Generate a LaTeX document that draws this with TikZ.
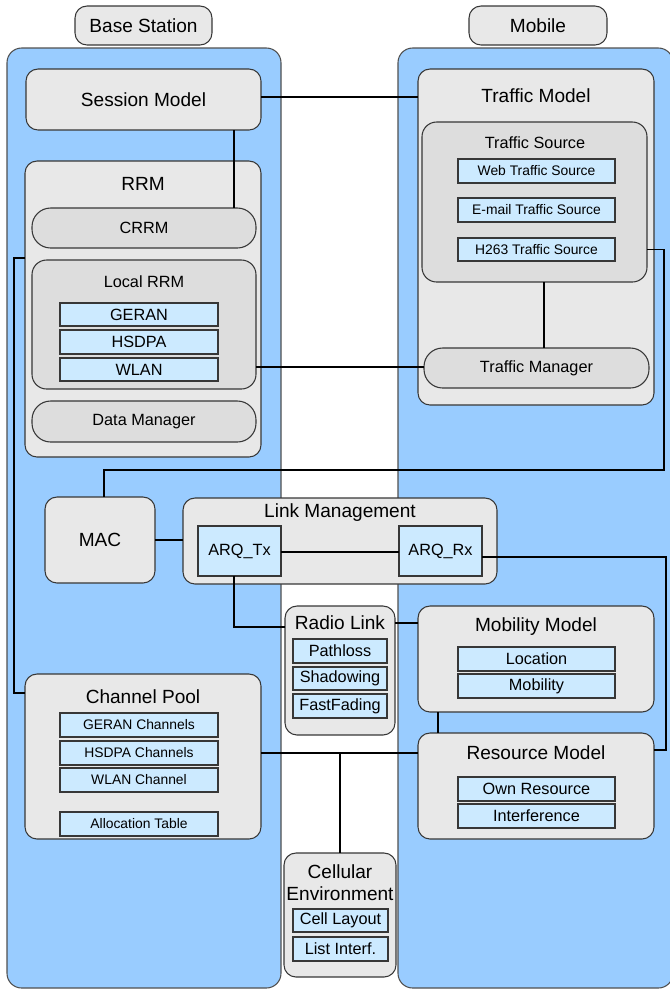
\documentclass[tikz,border=0pt]{standalone}
\usepackage{fontspec}
\setmainfont{Liberation Sans}
\definecolor{contblue}{RGB}{153,204,255}
\definecolor{boxgray}{RGB}{232,232,232}
\definecolor{innergray}{RGB}{221,221,221}
\definecolor{cellblue}{RGB}{204,234,255}
\definecolor{edge}{RGB}{55,55,55}
\definecolor{contedge}{RGB}{80,80,80}
\begin{document}
\begin{tikzpicture}[x=0.75pt,y=-0.75pt,
  % a box given by its corners (x1,y1) and (x2,y2) in pixel units
  area/.style n args={4}{inner sep=0pt, outer sep=0pt,
    minimum width={(#3-#1)*0.75pt}, minimum height={(#4-#2)*0.75pt},
    at={({(#1+#3)/2},{(#2+#4)/2})}},
  container/.style={draw=contedge, fill=contblue, rounded corners=11pt, line width=0.8pt},
  panel/.style={draw=edge, fill=boxgray, rounded corners=9pt, line width=0.8pt},
  subpanel/.style={draw=edge, fill=innergray, rounded corners=11pt, line width=0.8pt},
  cellbox/.style={draw=edge, fill=cellblue, line width=0.8pt},
  big/.style={font=\fontsize{14.3}{17}\selectfont},
  mid/.style={font=\fontsize{12.2}{14}\selectfont},
  small/.style={font=\fontsize{10.4}{12}\selectfont},
  link/.style={draw=black, line width=1.1pt},
]
\useasboundingbox (0,0) rectangle (669,990);

% header tags
\node[panel, big, area={75}{6}{212}{45}] (bstag) {Base Station};
\node[panel, big, area={469}{6}{607}{45}] (mstag) {Mobile};

% the two large containers
\node[container, area={7}{48}{281}{988}] (bscont) {};
\node[container, area={398}{48}{673}{988}] (mscont) {};

% base station side
\node[panel, big, area={26}{69}{261}{130}] (sess) {Session Model};

\node[panel, area={25}{161}{261}{457}] (rrm) {};
\node[big] (rrmt) at (143,184) {RRM};
\node[subpanel, mid, rounded corners=14pt, area={32}{208}{256}{248}] (crrm) {CRRM};
\node[subpanel, area={32}{260}{256}{389}] (lrrm) {};
\node[mid] (lrrmt) at (144,282) {Local RRM};
\node[cellbox, mid, area={60}{303}{218}{326}] (geran) {GERAN};
\node[cellbox, mid, area={60}{330}{218}{354}] (hsdpa) {HSDPA};
\node[cellbox, mid, area={60}{358}{218}{381}] (wlan) {WLAN};
\node[subpanel, mid, rounded corners=14pt, area={32}{401}{256}{442}] (dmgr) {Data Manager};

\node[panel, big, area={45}{497}{155}{583}] (mac) {MAC};

\node[panel, area={25}{674}{261}{839}] (chp) {};
\node[big] (chpt) at (143,697) {Channel Pool};
\node[cellbox, small, area={60}{713}{218}{737}] (gch) {GERAN Channels};
\node[cellbox, small, area={60}{741}{218}{765}] (hch) {HSDPA Channels};
\node[cellbox, small, area={60}{768}{218}{792}] (wch) {WLAN Channel};
\node[cellbox, small, area={60}{812}{218}{836}] (atab) {Allocation Table};

% mobile side
\node[panel, area={418}{69}{654}{405}] (tm) {};
\node[big] (tmt) at (536,96) {Traffic Model};
\node[subpanel, area={422}{122}{647}{282}] (tsrc) {};
\node[mid] (tsrct) at (535,143) {Traffic Source};
\node[cellbox, small, area={458}{159}{615}{183}] (web) {Web Traffic Source};
\node[cellbox, small, area={458}{198}{615}{222}] (email) {E-mail Traffic Source};
\node[cellbox, small, area={458}{238}{615}{261}] (h263) {H263 Traffic Source};
\node[subpanel, mid, rounded corners=14pt, area={424}{348}{649}{388}] (tmgr) {Traffic Manager};

\node[panel, area={418}{606}{654}{712}] (mobm) {};
\node[big] (mobmt) at (536,627) {Mobility Model};
\node[cellbox, mid, area={458}{647}{615}{671}] (loc) {Location};
\node[cellbox, mid, area={458}{674}{615}{698}] (mobl) {Mobility};

\node[panel, area={418}{733}{654}{839}] (res) {};
\node[big] (rest) at (536,753) {Resource Model};
\node[cellbox, mid, area={458}{777}{615}{801}] (own) {Own Resource};
\node[cellbox, mid, area={458}{804}{615}{828}] (intf) {Interference};

% shared blocks in the middle
\node[panel, area={183}{498}{497}{584}] (lm) {};
\node[big] (lmt) at (340,513) {Link Management};
\node[cellbox, mid, area={198}{526}{281}{576}] (arqtx) {ARQ\_Tx};
\node[cellbox, mid, area={399}{526}{482}{576}] (arqrx) {ARQ\_Rx};

\node[panel, area={285}{606}{395}{735}] (rl) {};
\node[big] (rlt) at (340,623) {Radio Link};
\node[cellbox, mid, area={293}{639}{387}{663}] (path) {Pathloss};
\node[cellbox, mid, area={293}{667}{387}{690}] (shad) {Shadowing};
\node[cellbox, mid, area={293}{694}{387}{718}] (fast) {FastFading};

\node[panel, area={284}{853}{396}{977}] (cell) {};
\node[big] (cellt1) at (340,872) {Cellular};
\node[big] (cellt2) at (340,894) {Environment};
\node[cellbox, mid, area={293}{909}{388}{932}] (clay) {Cell Layout};
\node[cellbox, mid, area={293}{937}{388}{961}] (lint) {List Interf.};

% connectors
\draw[link] (sess.east |- 0,97) -- (tm.west |- 0,97);
\draw[link] (sess.south -| 234,0) -- (crrm.north -| 234,0);
\draw[link] (rrm.west |- 0,258) -| (14,693) -- (chp.west |- 0,693);
\draw[link] (tsrc.east |- h263.east) -| (664,470) -| (mac.north -| 104,0);
\draw[link] (tsrc.south -| 544,0) -- (tmgr.north -| 544,0);
\draw[link] (lrrm.east |- 0,367) -- (tmgr.west |- 0,367);
\draw[link] (mac.east |- 0,540) -- (lm.west |- 0,540);
\draw[link] (arqtx.east |- 0,552) -- (arqrx.west |- 0,552);
\draw[link] (arqtx.south -| 234,0) |- (rl.west |- 0,627);
\draw[link] (rl.east |- 0,623) -- (mobm.west |- 0,623);
\draw[link] (arqrx.east |- 0,557) -| (666,750) -- (res.east |- 0,750);
\draw[link] (mobm.south -| 438,0) -- (res.north -| 438,0);
\draw[link] (chp.east |- 0,753) -- (res.west |- 0,753);
\draw[link] (cell.north |- 0,753) -- (cell.north);
\end{tikzpicture}
\end{document}
